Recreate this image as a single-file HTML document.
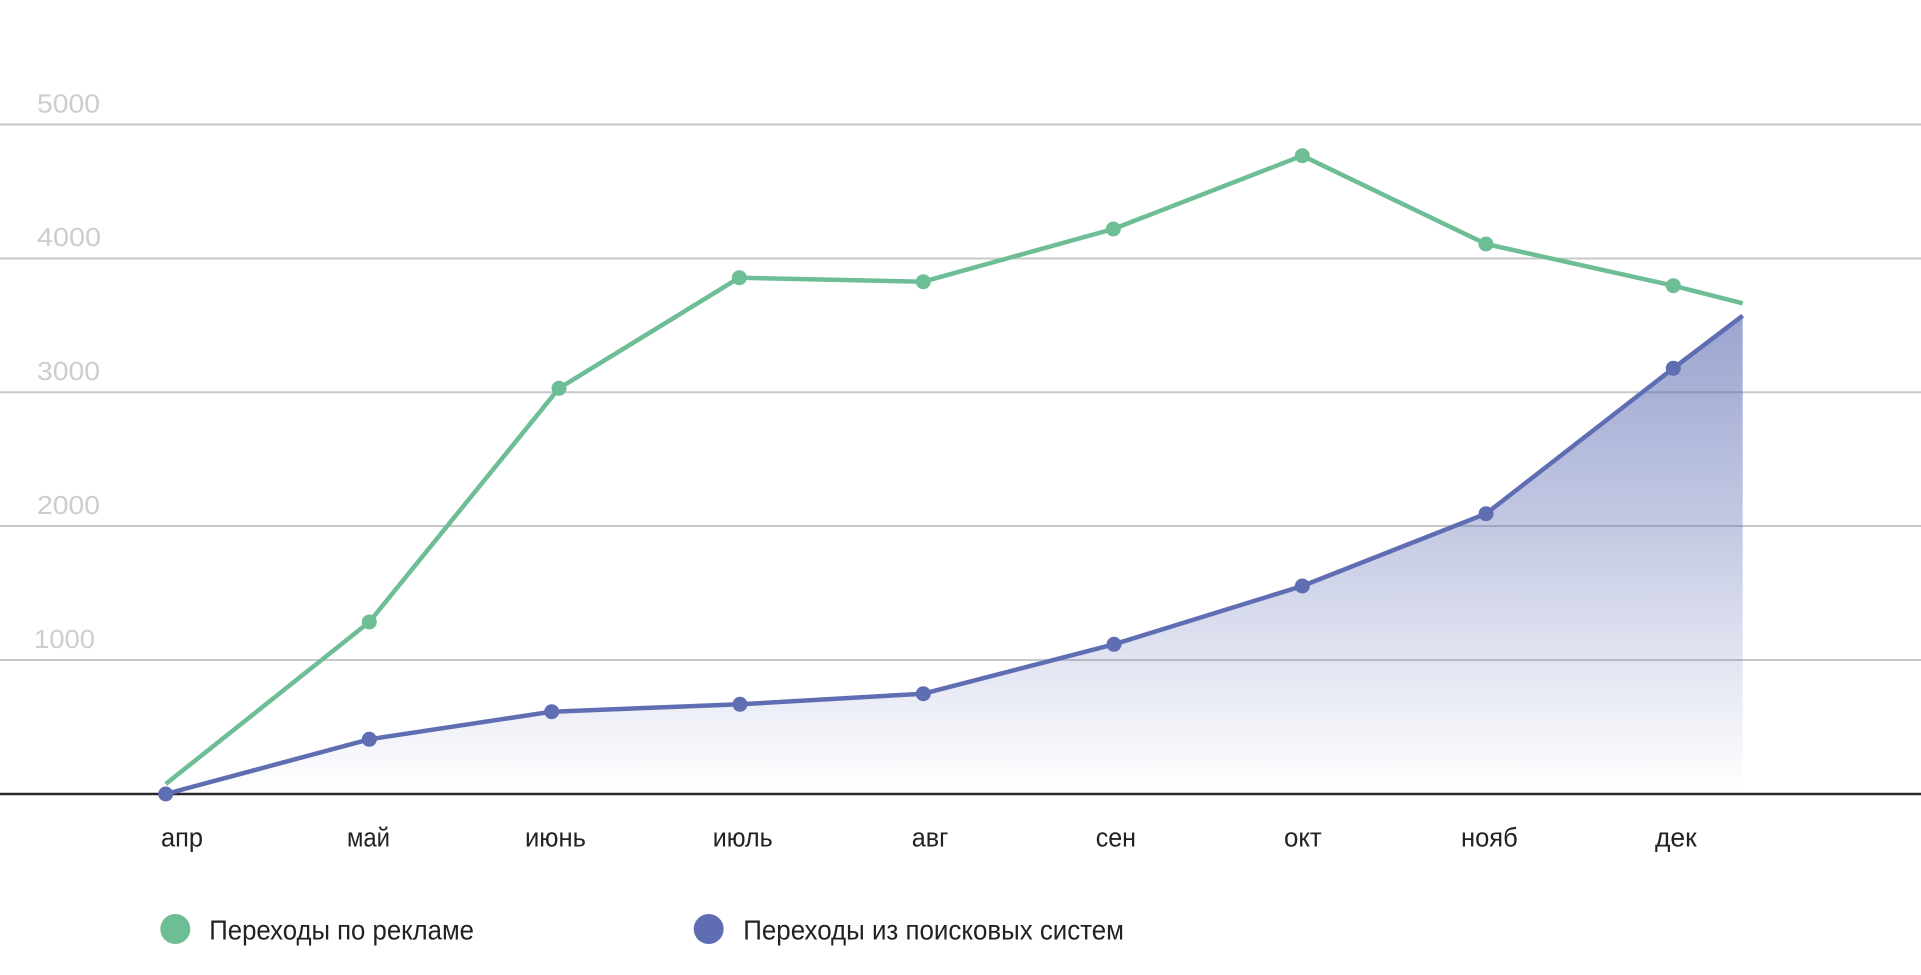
<!DOCTYPE html>
<html>
<head>
<meta charset="utf-8">
<style>
  html, body { margin: 0; padding: 0; background: #ffffff; }
  body { width: 1921px; height: 975px; overflow: hidden; }
  svg { display: block; }
  .ylab { font-family: "Liberation Sans", sans-serif; font-size: 26px; fill: #cdcdcd; }
  .xlab { font-family: "Liberation Sans", sans-serif; font-size: 27px; fill: #222222; }
  .leg { font-family: "Liberation Sans", sans-serif; font-size: 28px; fill: #222222; }
</style>
</head>
<body>
<svg width="1921" height="975" viewBox="0 0 1921 975" xmlns="http://www.w3.org/2000/svg">
  <defs>
    <linearGradient id="blueFill" x1="0" y1="300" x2="0" y2="790" gradientUnits="userSpaceOnUse">
      <stop offset="0" stop-color="#5f6db3" stop-opacity="0.64"/>
      <stop offset="0.45" stop-color="#5f6db3" stop-opacity="0.38"/>
      <stop offset="1" stop-color="#5f6db3" stop-opacity="0.0"/>
    </linearGradient>
  </defs>

  <!-- gridlines -->
  <g stroke="#c8c8c8" stroke-width="2">
    <line x1="0" y1="124.5" x2="1921" y2="124.5"/>
    <line x1="0" y1="258.5" x2="1921" y2="258.5"/>
    <line x1="0" y1="392.3" x2="1921" y2="392.3"/>
    <line x1="0" y1="526" x2="1921" y2="526"/>
    <line x1="0" y1="660" x2="1921" y2="660"/>
  </g>

  <!-- y labels -->
  <text class="ylab" x="37" y="112.5" textLength="63" lengthAdjust="spacingAndGlyphs">5000</text>
  <text class="ylab" x="37" y="246" textLength="64" lengthAdjust="spacingAndGlyphs">4000</text>
  <text class="ylab" x="37" y="380" textLength="63" lengthAdjust="spacingAndGlyphs">3000</text>
  <text class="ylab" x="37" y="514" textLength="63" lengthAdjust="spacingAndGlyphs">2000</text>
  <text class="ylab" x="34" y="648" textLength="61" lengthAdjust="spacingAndGlyphs">1000</text>

  <!-- blue area fill -->
  <path d="M165.7,794 L369.3,739.3 L551.7,711.7 L740,704.3 L923.3,693.7 L1114,644.3 L1302.3,586 L1486,513.7 L1673.3,368.3 L1742.7,315.7 L1742.7,788 L165.7,788 Z" fill="url(#blueFill)"/>

  <!-- axis -->
  <line x1="0" y1="794" x2="1921" y2="794" stroke="#2a2a2a" stroke-width="2.5"/>

  <!-- green series -->
  <polyline fill="none" stroke="#6dbd95" stroke-width="4.5" stroke-linejoin="round"
    points="165.7,784 369.3,622 559,388.3 739.3,277.7 923.3,281.7 1113.3,229 1302.3,155.7 1486,244 1673.3,285.7 1742.7,303.3"/>
  <g fill="#6dbd95">
    <circle cx="369.3" cy="622" r="7.5"/>
    <circle cx="559" cy="388.3" r="7.5"/>
    <circle cx="739.3" cy="277.7" r="7.5"/>
    <circle cx="923.3" cy="281.7" r="7.5"/>
    <circle cx="1113.3" cy="229" r="7.5"/>
    <circle cx="1302.3" cy="155.7" r="7.5"/>
    <circle cx="1486" cy="244" r="7.5"/>
    <circle cx="1673.3" cy="285.7" r="7.5"/>
  </g>

  <!-- blue series -->
  <polyline fill="none" stroke="#5f6db3" stroke-width="4.5" stroke-linejoin="round"
    points="165.7,794 369.3,739.3 551.7,711.7 740,704.3 923.3,693.7 1114,644.3 1302.3,586 1486,513.7 1673.3,368.3 1742.7,315.7"/>
  <g fill="#5f6db3">
    <circle cx="165.7" cy="794" r="7.5"/>
    <circle cx="369.3" cy="739.3" r="7.5"/>
    <circle cx="551.7" cy="711.7" r="7.5"/>
    <circle cx="740" cy="704.3" r="7.5"/>
    <circle cx="923.3" cy="693.7" r="7.5"/>
    <circle cx="1114" cy="644.3" r="7.5"/>
    <circle cx="1302.3" cy="586" r="7.5"/>
    <circle cx="1486" cy="513.7" r="7.5"/>
    <circle cx="1673.3" cy="368.3" r="7.5"/>
  </g>

  <!-- x labels -->
  <text class="xlab" x="161" y="846.7" textLength="42" lengthAdjust="spacingAndGlyphs">апр</text>
  <text class="xlab" x="347" y="846.7" textLength="43" lengthAdjust="spacingAndGlyphs">май</text>
  <text class="xlab" x="525" y="846.7" textLength="61" lengthAdjust="spacingAndGlyphs">июнь</text>
  <text class="xlab" x="712.7" y="846.7" textLength="60" lengthAdjust="spacingAndGlyphs">июль</text>
  <text class="xlab" x="911.7" y="846.7" textLength="36.6" lengthAdjust="spacingAndGlyphs">авг</text>
  <text class="xlab" x="1095.7" y="846.7" textLength="40.3" lengthAdjust="spacingAndGlyphs">сен</text>
  <text class="xlab" x="1284" y="846.7" textLength="37.7" lengthAdjust="spacingAndGlyphs">окт</text>
  <text class="xlab" x="1461" y="846.7" textLength="56.7" lengthAdjust="spacingAndGlyphs">нояб</text>
  <text class="xlab" x="1655" y="846.7" textLength="41.7" lengthAdjust="spacingAndGlyphs">дек</text>

  <!-- legend -->
  <circle cx="175.3" cy="929" r="15" fill="#6dbd95"/>
  <text class="leg" x="209.3" y="939.3" textLength="264.7" lengthAdjust="spacingAndGlyphs">Переходы по рекламе</text>
  <circle cx="708.7" cy="929" r="15" fill="#5f6db3"/>
  <text class="leg" x="743.3" y="939.3" textLength="380.7" lengthAdjust="spacingAndGlyphs">Переходы из поисковых систем</text>
</svg>
</body>
</html>
